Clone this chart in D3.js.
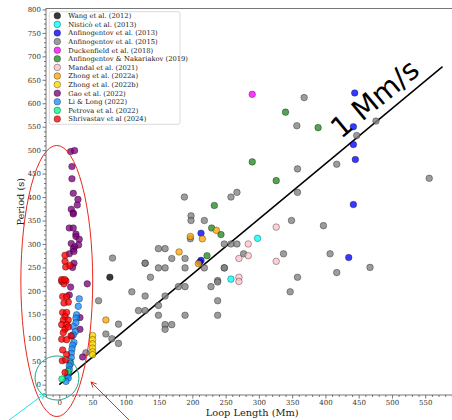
<!DOCTYPE html>
<html><head><meta charset="utf-8">
<script src="https://cdn.jsdelivr.net/npm/d3@7"></script>
<style>
html,body{margin:0;padding:0;background:#fff;}
svg{display:block;}
</style>
</head><body>
<div id="chart"></div>
<script>
// ---- DATA ([loop length Mm, period s]) ----
const wang = [[76,229]];
const nistico = [[298,312],[258,225]];
const anf2013 = [[213,323],[213,265],[211,261],[442,512],[445,480],[442,384],[435,271],[444,622],[442,550]];
const anf2015 = [[368,612],[357,552],[476,562],[447,531],[417,470],[358,460],[556,440],[358,410],[349,350],[397,339],[407,279],[467,250],[417,239],[358,229],[347,198],
  [188,400],[258,400],[267,410],[198,360],[198,350],[218,350],[197,311],[149,290],[159,290],[169,269],[189,269],[218,249],[129,259],[129,259],[149,249],[159,249],[189,249],[137,229],[248,249],[248,249],[248,300],[258,300],[267,300],[277,279],[337,279],[238,222],
  [129,189],[159,189],[149,169],[129,158],[119,158],[149,148],[159,128],[159,118],[169,128],[179,209],[189,209],[189,148],[228,209],[238,219],[238,179],[238,148],
  [80,270],[59,179],[109,198],[89,129],[70,108],[79,98],[89,88],[40,68]];
const duckenfield = [[290,619]];
const anfNak = [[290,475],[326,435],[233,382],[229,334],[243,320],[222,275],[340,581],[389,548]];
const mandal = [[284,300],[326,336],[284,275],[270,269],[326,263],[270,229],[270,220]];
const zhongA = [[236,329],[197,316],[215,311],[180,283],[209,258],[70,138]];
const zhongB = [[50,105],[50,96],[50,87],[50,78],[50,70],[50,64]];
const gao = [[17,497],[23,499],[19,465],[19,439],[21,408],[28,395],[27,383],[18,374],[21,366],[21,364],[15,334],[21,334],[25,321],[25,316],[30,310],[18,301],[29,298],[23,294],[21,289],[15,279],[22,284],[22,259],[20,250],[17,208],[42,215],[15,191],[31,143],[31,118],[19,104],[35,59]];
const liLong = [[30,183],[28.5,167],[26,149],[25,142],[25,132],[21,124],[24,113],[21,106],[22,90],[20,84],[19,76],[18,67],[18,58],[16,49],[17,45],[15,40],[15,32],[13.5,23],[12,18],[13.5,14],[10,7]];
const petrova = [[4,12],[13,28]];
const shrivastav = [[3.6,220],[10,221],[7,215],[3.6,224],[8,224],[5,188],[11,188],[13.5,176],[7,174],[5,154],[11,154],[8.6,145],[6,138],[13.5,138],[3.6,128],[11,128],[8.6,118],[13.5,123],[6,111],[17.6,104],[3.6,97],[11,96],[5,74],[11,64],[4.5,51],[9.6,53],[8.6,26],[8.6,276],[8.6,263],[9.6,251],[16,254]];

const seriesNames = ["Wang et al. (2012)","Nisticò et al. (2013)","Anfinogentov et al. (2013)","Anfinogentov et al. (2015)","Duckenfield et al. (2018)","Anfinogentov & Nakariakov (2019)","Mandal et al. (2021)","Zhong et al. (2022a)","Zhong et al. (2022b)","Gao et al. (2022)","Li & Long (2022)","Petrova et al. (2022)","Shrivastav et al (2024)"];
const seriesValues = [wang,nistico,anf2013,anf2015,duckenfield,anfNak,mandal,zhongA,zhongB,gao,liLong,petrova,shrivastav];
const seriesColors = ["#000000","#00ffff","#0000ff","#808080","#ff00ff","#228b22","#ffc0cb","#ffa500","#ffd700","#800080","#1e90ff","#00ff7f","#ff0000"];

const xTicks = d3.range(0,601,50);
const yTicks = d3.range(0,801,50);
const xLabel = "Loop Length (Mm)";
const yLabel = "Period (s)";

// annotations (data units)
const speedLine = [[0,0],[576,678]];
const speedText = {L:474, P:610, text:"1 Mm/s"};
const redEllipse = {L:-3.8, P:221, rL:54, rP:289};
const tealCircle = {L:-3.5, P:14.3, rL:33, rP:47};
const cyanArrow = [[-77,-77],[-21.5,-18.6]];
const redArrow = [[106,-77],[47.6,5.8]];

// ---- CHART ----
const W=452, H=420;
const x = d3.scaleLinear().domain([-20,600]).range([46,458.5]);
const y = d3.scaleLinear().domain([-22,802]).range([395,8.5]);
const svg = d3.select("#chart").append("svg").attr("width",W).attr("height",H);
const serif = "'DejaVu Serif', serif";

// frame
svg.append("rect").attr("x",x(-20)).attr("y",y(802)).attr("width",x(600)-x(-20)).attr("height",y(-22)-y(802))
  .attr("fill","none").attr("stroke","#777").attr("stroke-width",1);

// axes
function styleAxis(g){
  g.select(".domain").remove();
  g.selectAll("line").attr("stroke","#555").attr("stroke-width",0.8);
  g.selectAll("text").attr("font-family",serif).attr("font-size",7).attr("fill","#333");
}
const xMinor = d3.range(-20,601,10).filter(v=>v%50!==0);
const yMinor = d3.range(-20,801,10).filter(v=>v%50!==0);
svg.append("g").attr("transform",`translate(0,${y(-22)})`)
  .call(d3.axisBottom(x).tickValues(xMinor).tickSize(2).tickFormat(""))
  .call(styleAxis);
svg.append("g").attr("transform",`translate(0,${y(-22)})`)
  .call(d3.axisBottom(x).tickValues(xTicks).tickSize(3.5).tickPadding(2).tickFormat(d3.format("d")))
  .call(styleAxis);
svg.append("g").attr("transform",`translate(${x(-20)},0)`)
  .call(d3.axisLeft(y).tickValues(yMinor).tickSize(2).tickFormat(""))
  .call(styleAxis);
svg.append("g").attr("transform",`translate(${x(-20)},0)`)
  .call(d3.axisLeft(y).tickValues(yTicks).tickSize(3.5).tickPadding(1.5).tickFormat(d3.format("d")))
  .call(styleAxis);

svg.append("text").attr("x",(x(-20)+x(600))/2).attr("y",416).attr("text-anchor","middle")
  .attr("font-family",serif).attr("font-size",9.8).attr("fill","#222").text(xLabel);
svg.append("text").attr("transform",`translate(23.5,${(y(-22)+y(802))/2}) rotate(-90)`).attr("text-anchor","middle")
  .attr("font-family",serif).attr("font-size",9.8).attr("fill","#222").text(yLabel);

// speed line
svg.append("line").attr("x1",x(speedLine[0][0])).attr("y1",y(speedLine[0][1]))
  .attr("x2",x(speedLine[1][0])).attr("y2",y(speedLine[1][1])).attr("stroke","#000").attr("stroke-width",1.5);

// points
seriesValues.forEach((vals,i)=>{
  svg.append("g").selectAll("circle").data(vals).join("circle")
    .attr("cx",d=>x(d[0])).attr("cy",d=>y(d[1])).attr("r",3.3)
    .attr("fill",seriesColors[i]).attr("fill-opacity",0.78)
    .attr("stroke","#000").attr("stroke-opacity",0.55).attr("stroke-width",0.6);
});

// speed text
const ang = Math.atan2(y(speedLine[1][1])-y(speedLine[0][1]), x(speedLine[1][0])-x(speedLine[0][0]))*180/Math.PI;
svg.append("text").attr("transform",`translate(${x(speedText.L)},${y(speedText.P)}) rotate(${ang})`)
  .attr("text-anchor","middle").attr("dy","0.35em").attr("font-family","'DejaVu Sans', sans-serif")
  .attr("font-size",28.5).attr("fill","#000").text(speedText.text);

// legend
const lg = svg.append("g");
lg.append("rect").attr("x",49.3).attr("y",11.7).attr("width",130.7).attr("height",112.6).attr("rx",2)
  .attr("fill","#fff").attr("fill-opacity",0.85).attr("stroke","#d0d0d0").attr("stroke-width",0.8);
seriesNames.forEach((n,i)=>{
  const yy = 15.8 + i*8.6;
  lg.append("circle").attr("cx",57.3).attr("cy",yy).attr("r",3.3)
    .attr("fill",seriesColors[i]).attr("fill-opacity",0.78)
    .attr("stroke","#000").attr("stroke-opacity",0.55).attr("stroke-width",0.6);
  lg.append("text").attr("x",68.3).attr("y",yy).attr("dy","0.35em")
    .attr("font-family",serif).attr("font-size",6.75).attr("fill","#222").text(n);
});

// annotations
svg.append("ellipse").attr("cx",x(redEllipse.L)).attr("cy",y(redEllipse.P))
  .attr("rx",x(redEllipse.rL)-x(0)).attr("ry",y(0)-y(redEllipse.rP))
  .attr("fill","none").attr("stroke","#e8281e").attr("stroke-width",1);
svg.append("ellipse").attr("cx",x(tealCircle.L)).attr("cy",y(tealCircle.P))
  .attr("rx",x(tealCircle.rL)-x(0)).attr("ry",y(0)-y(tealCircle.rP))
  .attr("fill","none").attr("stroke","#1fa88a").attr("stroke-width",1);

function arrow(pts,color){
  const [a,b]=pts; const x1=x(a[0]),y1=y(a[1]),x2=x(b[0]),y2=y(b[1]);
  svg.append("line").attr("x1",x1).attr("y1",y1).attr("x2",x2).attr("y2",y2).attr("stroke",color).attr("stroke-width",1);
  const t=Math.atan2(y2-y1,x2-x1), L=6, s=0.45;
  const p1=[x2-L*Math.cos(t-s), y2-L*Math.sin(t-s)], p2=[x2-L*Math.cos(t+s), y2-L*Math.sin(t+s)];
  svg.append("path").attr("d",`M${p1}L${x2},${y2}L${p2}`).attr("fill","none").attr("stroke",color).attr("stroke-width",1);
}
arrow(cyanArrow,"#22e0e0");
arrow(redArrow,"#e8281e");
</script>
</body></html>
